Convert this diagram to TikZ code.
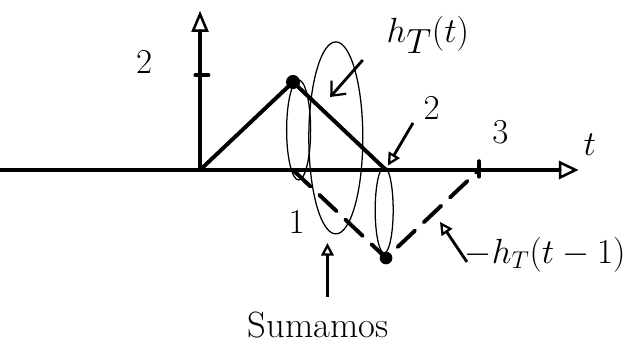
\documentclass[tikz,border=0pt]{standalone}
\usepackage{amsmath}
\usepackage{tikz}
\usetikzlibrary{arrows.meta}

\begin{document}
\begin{tikzpicture}[x=2.325cm, y=1.1cm, >=Stealth,
  curve/.style={line width=2.8pt, line cap=round},
  ring/.style={line width=0.9pt},
  pointer/.style={line width=2pt, -{Triangle[open, length=9pt, width=9pt, line width=1.6pt]}},
  lbl/.style={font=\fontsize{24}{28}\selectfont}]
\useasboundingbox (-2.151,-4.114) rectangle (4.720,3.864);

% axes
\draw[curve, -{Triangle[open, length=14pt, width=13pt, line width=1.8pt]}] (-2.15,0) -- (4.07,0);
\draw[curve, -{Triangle[open, length=15pt, width=12pt, line width=1.8pt]}] (0,0) -- (0,3.62);
\draw[curve] (-0.05,2.15) -- (0.09,2.15);
\draw[curve] (3,-0.15) -- (3,0.2);

% points of the two pieces
\coordinate (O) at (0,0);
\coordinate (P) at (1,2);
\coordinate (A) at (1,0);
\coordinate (B) at (2,0);
\coordinate (N) at (2,-2);
\coordinate (C) at (3,0);

% h_T(t)
\draw[curve] (O) -- (P) -- (B);
\fill (P) circle[radius=5pt];

% -h_T(t-1), dashed
\draw[curve, dash pattern=on 0.6cm off 0.3cm] (A) -- (N) -- (C);
\fill (N) circle[radius=4.5pt];

% ellipses
\draw[ring] (1.46,0.73) ellipse[x radius=0.675cm, y radius=2.4cm];
\draw[ring] (1.06,0.91) ellipse[x radius=0.3cm, y radius=1.25cm];
\draw[ring] (1.98,-0.91) ellipse[x radius=0.225cm, y radius=1.075cm];

% labels
\node[lbl] (two)   at (-0.6,2.45) {$2$};
\node[lbl] (one)   at (1.04,-1.18) {$1$};
\node[lbl] (twoB)  at (2.49,1.41) {$2$};
\node[lbl] (three) at (3.23,0.86) {$3$};
\node[font=\fontsize{30}{34}\selectfont] (tlab) at (4.19,0.57) {$t$};
\node[font=\fontsize{34}{38}\selectfont] (hT) at (2.45,3.07) {$h_T(t)$};
\node[font=\fontsize{27}{31}\selectfont] (hTm) at (3.71,-1.93) {$-h_T(t-1)$};
\node[font=\fontsize{26}{30}\selectfont] (sum) at (1.27,-3.52) {Sumamos};

% pointers
\coordinate (p1) at (2.29,1.07);
\coordinate (p2) at (1.75,2.5);
\coordinate (p3) at (2.87,-2.09);
\coordinate (p4) at (1.37,-2.89);
\draw[pointer] (p1) -- (2.02,0.1);
\draw[line width=2pt, -{Straight Barb[length=8pt, width=14pt, line width=1.6pt]}] (p2) -- (1.40,1.66);
\draw[pointer] (p3) -- (2.58,-1.18);
\draw[pointer] (p4) -- (1.37,-1.66);
\end{tikzpicture}
\end{document}
